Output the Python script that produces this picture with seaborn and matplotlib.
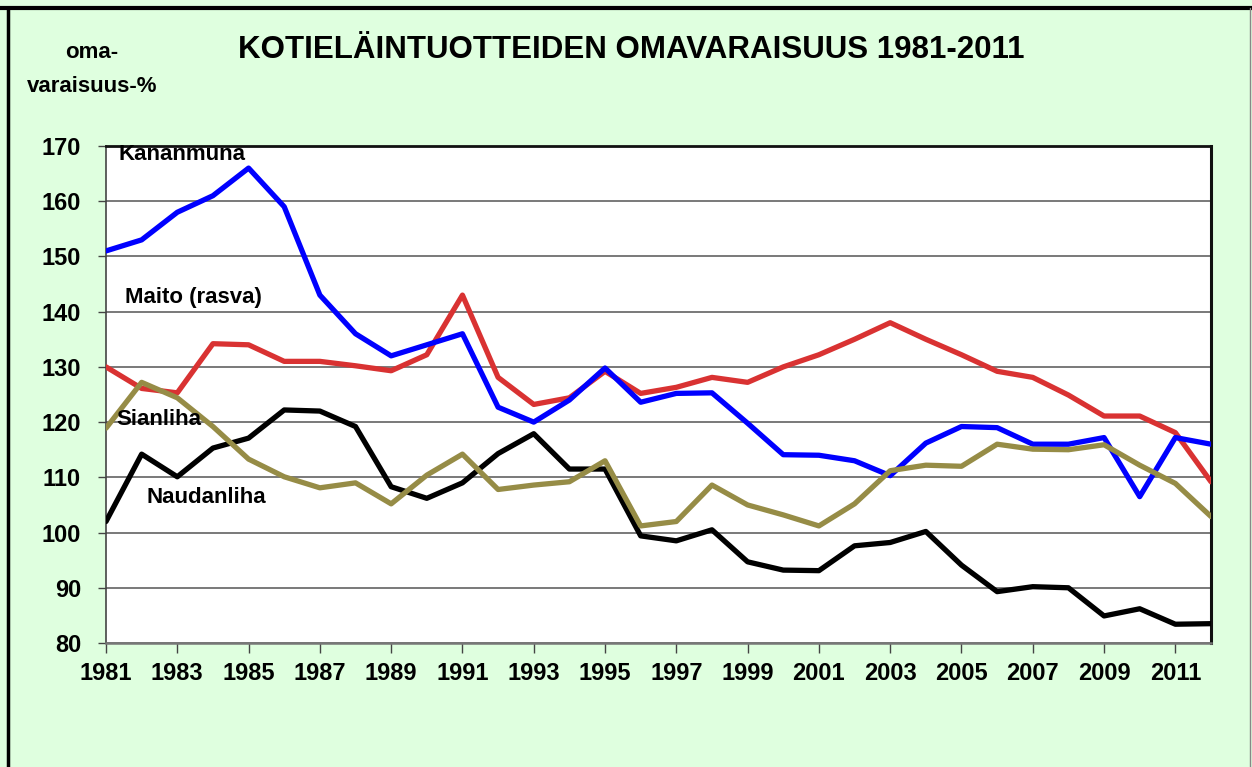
import numpy as np
import pandas as pd
import matplotlib
matplotlib.use("Agg")
import matplotlib.pyplot as plt
import seaborn as sns
from matplotlib.lines import Line2D

### data ###
years = list(range(1981, 2013))
kananmuna = [151, 153, 158, 161, 166, 159, 143, 136, 132, 134, 136,
             122.7, 120, 124, 129.8, 123.6, 125.2, 125.3, 119.8, 114.1, 114, 113,
             110.3, 116.2, 119.2, 119, 116, 116, 117.2, 106.5, 117.2, 116]
maito = [130, 126.1, 125.3, 134.2, 134, 131, 131, 130.2, 129.3, 132.2, 143,
         128.1, 123.2, 124.4, 129.2, 125.2, 126.3, 128.1, 127.2, 130, 132.2, 135,
         138, 135, 132.2, 129.2, 128.1, 124.9, 121.1, 121.1, 118.1, 109.2]
sianliha = [118.9, 127.2, 124.4, 119.2, 113.3, 110.1, 108.1, 109, 105.2, 110.4, 114.2,
            107.8, 108.6, 109.2, 113, 101.2, 102, 108.6, 105, 103.2, 101.2, 105.2,
            111.2, 112.2, 112, 116, 115.1, 115, 115.9, 112.2, 108.9, 102.9]
naudanliha = [102, 114.2, 110.1, 115.3, 117.1, 122.2, 122, 119.2, 108.3, 106.2, 109,
              114.3, 117.9, 111.5, 111.5, 99.4, 98.5, 100.5, 94.7, 93.2, 93.1, 97.6,
              98.2, 100.2, 94.1, 89.3, 90.2, 90, 84.9, 86.2, 83.4, 83.5]
xticks = list(range(1981, 2012, 2))
yticks = list(range(80, 171, 10))

series = {
    "Maito (rasva)": maito,
    "Kananmuna": kananmuna,
    "Naudanliha": naudanliha,
    "Sianliha": sianliha,
}
colors = {
    "Maito (rasva)": "#d93232",
    "Kananmuna": "#0000ff",
    "Naudanliha": "#000000",
    "Sianliha": "#968c46",
}
df = pd.concat(
    [pd.DataFrame({"vuosi": years, "arvo": v, "sarja": k}) for k, v in series.items()]
)

### styling ###
sns.set_style("white")
plt.rcParams["font.family"] = ["Liberation Sans", "DejaVu Sans"]
plt.rcParams["font.weight"] = "bold"
plt.rcParams["text.color"] = "black"
plt.rcParams["xtick.color"] = "black"
plt.rcParams["ytick.color"] = "black"
bg = "#dfffdf"

fig = plt.figure(figsize=(12.52, 7.67), dpi=100, facecolor=bg)
ax = fig.add_axes([106/1252, 1 - 643/767, (1211 - 106)/1252, (643 - 146)/767])
ax.set_facecolor("white")

sns.lineplot(
    data=df, x="vuosi", y="arvo", hue="sarja", palette=colors,
    linewidth=3.8, legend=False, ax=ax, zorder=3,
)

ax.set_xlim(1981, 2012)
ax.set_ylim(80, 170)
ax.set_xticks(xticks)
ax.set_yticks(yticks)
ax.set_xticklabels([str(t) for t in xticks], fontsize=17, fontweight="bold")
ax.set_yticklabels([str(t) for t in yticks], fontsize=17, fontweight="bold")
ax.tick_params(axis="x", direction="out", length=7, width=1, color="#444444",
               labelcolor="black", bottom=True, pad=7)
ax.tick_params(axis="y", direction="out", length=6, width=1, color="#444444",
               labelcolor="black", left=True, pad=12)
ax.set_xlabel("")
ax.set_ylabel("")
ax.grid(axis="y", color="#555555", linewidth=1.1)
ax.grid(axis="x", visible=False)

for side, (c, w) in {"top": ("#111111", 2.0), "right": ("#111111", 2.2),
                     "left": ("#444444", 1.2), "bottom": ("#777777", 1.8)}.items():
    ax.spines[side].set_color(c)
    ax.spines[side].set_linewidth(w)
    ax.spines[side].set_visible(True)

## series labels
lab = dict(fontsize=16, fontweight="bold", va="center", ha="left", zorder=5,
           color="black")
ax.text(1981.34, 168.4, "Kananmuna", **lab)
ax.text(1981.53, 142.5, "Maito (rasva)", **lab)
ax.text(1981.3, 120.4, "Sianliha", **lab)
ax.text(1982.15, 106.4, "Naudanliha", **lab)

## title and y-axis caption
fig.text(631/1252, 1 - 50/767, "KOTIELÄINTUOTTEIDEN OMAVARAISUUS 1981-2011",
         ha="center", va="center", fontsize=22.5, fontweight="bold", color="black")
fig.text(92/1252, 1 - 53/767, "oma-", ha="center", va="center",
         fontsize=16, fontweight="bold", color="black")
fig.text(92/1252, 1 - 86/767, "varaisuus-%", ha="center", va="center",
         fontsize=16, fontweight="bold", color="black")

## outer frame
fig.add_artist(Line2D([0, 1], [1 - 7.5/767, 1 - 7.5/767], color="black",
                      linewidth=3, transform=fig.transFigure))
fig.add_artist(Line2D([8/1252, 8/1252], [0, 1 - 7.5/767], color="black",
                      linewidth=2.5, transform=fig.transFigure))
fig.add_artist(Line2D([1250/1252, 1250/1252], [0, 1 - 7.5/767], color="#888888",
                      linewidth=1, transform=fig.transFigure))

fig.savefig("out.png", dpi=100, facecolor=bg)
